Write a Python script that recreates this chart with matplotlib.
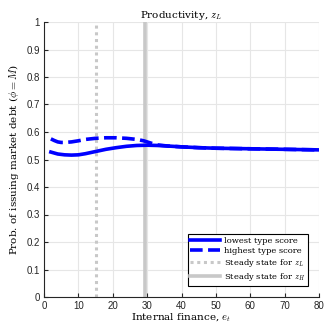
import matplotlib
matplotlib.use("Agg")
import matplotlib.pyplot as plt
import numpy as np

plt.rcParams['mathtext.fontset'] = 'cm'

ss_low = 15
ss_high = 29.5

e_low = [2, 4, 6, 8, 10, 12, 15, 18, 21, 24, 27, 30, 33, 36, 40, 45, 50, 55, 60, 65, 70, 75, 80]
p_low = [0.527, 0.520, 0.517, 0.516, 0.517, 0.521, 0.529, 0.537, 0.543, 0.548, 0.551, 0.552, 0.551, 0.549, 0.546, 0.543, 0.541, 0.540, 0.539, 0.538, 0.537, 0.536, 0.535]
e_high = [2, 3, 4, 5, 6, 8, 10, 12, 15, 18, 21, 24, 27, 29, 31, 33, 36, 40, 45, 50, 55, 60, 65, 70, 75, 80]
p_high = [0.575, 0.569, 0.564, 0.562, 0.562, 0.564, 0.568, 0.573, 0.577, 0.579, 0.579, 0.577, 0.573, 0.568, 0.560, 0.553, 0.549, 0.546, 0.543, 0.541, 0.540, 0.539, 0.538, 0.537, 0.536, 0.535]

fig = plt.figure(figsize=(3.24, 3.27), dpi=100)
ax = fig.add_axes([44/324, 30/327, 275/324, 275/327])

ax.plot(e_low, p_low, color='#0000ff', lw=2.6, label='lowest type score', zorder=3)
ax.plot(e_high, p_high, color='#0000ff', lw=2.6, ls=(0, (3.5, 1.5)), label='highest type score', zorder=3)
ax.axvline(ss_low, color='#c8c8c8', lw=2.2, ls=(0, (1, 1.2)), label=r'Steady state for $z_L$', zorder=2)
ax.axvline(ss_high, color='#c8c8c8', lw=2.6, label=r'Steady state for $z_H$', zorder=2)

ax.set_xlim(0, 80)
ax.set_ylim(0, 1)
ax.set_xticks(np.arange(0, 81, 10))
ax.set_yticks(np.arange(0, 1.01, 0.1))
ax.set_yticklabels(['0', '0.1', '0.2', '0.3', '0.4', '0.5', '0.6', '0.7', '0.8', '0.9', '1'])
ax.grid(True, color='#e6e6e6', lw=0.8)
ax.set_axisbelow(True)
for s in ['top', 'right']:
    ax.spines[s].set_visible(False)
for s in ['left', 'bottom']:
    ax.spines[s].set_color('#262626')
    ax.spines[s].set_linewidth(0.8)
ax.tick_params(direction='in', length=3, width=0.8, labelsize=7, colors='#262626',
               labelfontfamily='Liberation Sans', pad=3)

ax.set_title(r'Productivity, $z_L$', fontsize=7.5, family='DejaVu Serif', pad=3)
ax.set_xlabel(r'Internal finance, $e_t$', fontsize=7.5, family='DejaVu Serif', labelpad=0)
ax.set_ylabel(r'Prob. of issuing market debt ($\phi = M$)', fontsize=7.5, family='DejaVu Serif', labelpad=4)

leg = ax.legend(loc='lower right', prop={'family': 'DejaVu Serif', 'size': 6},
                frameon=True, fancybox=False, edgecolor='black', framealpha=1,
                handlelength=3.6, borderpad=0.35, labelspacing=0.25, handletextpad=0.4,
                bbox_to_anchor=(0.975, 0.025))
leg.get_frame().set_linewidth(0.8)

fig.savefig('out.png', dpi=100)
